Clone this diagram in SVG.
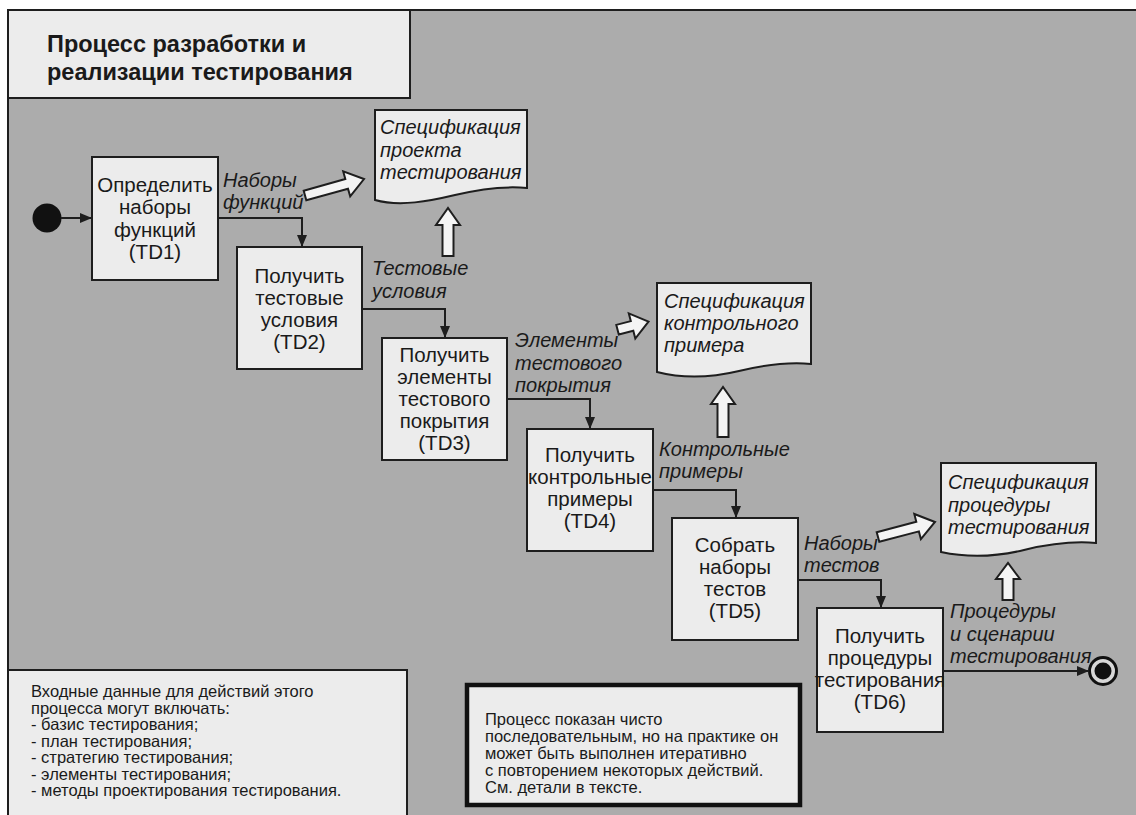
<svg xmlns="http://www.w3.org/2000/svg" width="1136" height="815" viewBox="0 0 1136 815">
<style>
.bg{fill:#acacac;stroke:none}
.frame{stroke:#1e1e1e;stroke-width:2;fill:none}
.box{fill:#ececec;stroke:#1e1e1e;stroke-width:2}
.doc{fill:#ececec;stroke:#1e1e1e;stroke-width:2}
.fat{fill:#f4f4f4;stroke:#1e1e1e;stroke-width:2;stroke-linejoin:miter}
.conn{fill:none;stroke:#1e1e1e;stroke-width:2}
.t{font-family:"Liberation Sans",Arial,sans-serif;font-size:20.5px;fill:#1a1a1a;text-anchor:middle}
.lbl{font-family:"Liberation Sans",Arial,sans-serif;font-size:20px;font-style:italic;fill:#1a1a1a}
.title{font-family:"Liberation Sans",Arial,sans-serif;font-size:23.5px;font-weight:bold;fill:#1a1a1a}
.note{font-family:"Liberation Sans",Arial,sans-serif;font-size:16.5px;fill:#1a1a1a}
</style>
<defs>
<marker id="ah" viewBox="0 0 12 10" refX="12" refY="5" markerWidth="12" markerHeight="10" markerUnits="userSpaceOnUse" orient="auto">
<path d="M0,0 L12,5 L0,10 Z" fill="#1e1e1e"/>
</marker>
</defs>
<rect class="bg" x="8" y="10" width="1128" height="805"/>
<path class="frame" d="M8,815 V10 H1136"/>

<g id="title">
<rect class="box" x="8" y="10" width="402" height="88"/>
<text class="title" x="47" y="52">Процесс разработки и</text>
<text class="title" x="47" y="80">реализации тестирования</text>
</g>

<g id="start"><circle cx="47" cy="218" r="14.5" fill="#111"/></g>
<g id="end">
<circle cx="1103" cy="671" r="13.5" fill="#d8d8d8" stroke="#111" stroke-width="3"/>
<circle cx="1103" cy="671" r="8.5" fill="#111"/>
</g>

<g id="connectors">
<path class="conn" d="M61,218 H92" marker-end="url(#ah)"/>
<path class="conn" d="M218,218 H302 V247" marker-end="url(#ah)"/>
<path class="conn" d="M362,309 H445 V338" marker-end="url(#ah)"/>
<path class="conn" d="M507,399 H590 V429" marker-end="url(#ah)"/>
<path class="conn" d="M653,490 H736 V518" marker-end="url(#ah)"/>
<path class="conn" d="M798,580 H881 V608" marker-end="url(#ah)"/>
<path class="conn" d="M943,671 H1089" marker-end="url(#ah)"/>
<polygon class="fat" points="303.7,190.7 345.3,179.0 343.2,171.3 364,179 350.2,196.3 348.0,188.7 306.3,200.3"/>
<polygon class="fat" points="616.3,324.9 630.8,321.1 628.8,313.4 648.5,321.7 635.3,338.5 633.3,330.8 618.8,334.5"/>
<polygon class="fat" points="876.7,532.2 916.3,521.8 914.3,514.0 935,522 920.9,539.2 918.9,531.4 879.3,541.8"/>
<polygon class="fat" points="442.5,256 442.5,225 436,225 448,208 460,225 453.5,225 453.5,256"/>
<polygon class="fat" points="717.5,437 717.5,404 711,404 723,387 735,404 728.5,404 728.5,437"/>
<polygon class="fat" points="1002.5,600 1002.5,579 996,579 1008,563 1020,579 1013.5,579 1013.5,600"/>
<text class="lbl" x="223" y="187">Наборы</text>
<text class="lbl" x="223" y="209">функций</text>
<text class="lbl" x="372" y="275">Тестовые</text>
<text class="lbl" x="372" y="298">условия</text>
<text class="lbl" x="515" y="347">Элементы</text>
<text class="lbl" x="515" y="370">тестового</text>
<text class="lbl" x="515" y="392">покрытия</text>
<text class="lbl" x="659" y="456">Контрольные</text>
<text class="lbl" x="659" y="478">примеры</text>
<text class="lbl" x="804" y="550">Наборы</text>
<text class="lbl" x="804" y="572">тестов</text>
<text class="lbl" x="950" y="618">Процедуры</text>
<text class="lbl" x="950" y="641">и сценарии</text>
<text class="lbl" x="950" y="663">тестирования</text>
</g>

<g id="TD1">
<rect class="box" x="92" y="157" width="126" height="123"/>
<text class="t" x="155" y="192">Определить</text>
<text class="t" x="155" y="214">наборы</text>
<text class="t" x="155" y="237">функций</text>
<text class="t" x="155" y="259">(TD1)</text>
</g>
<g id="TD2">
<rect class="box" x="237" y="247" width="125" height="122"/>
<text class="t" x="299.5" y="283">Получить</text>
<text class="t" x="299.5" y="305">тестовые</text>
<text class="t" x="299.5" y="327">условия</text>
<text class="t" x="299.5" y="349">(TD2)</text>
</g>
<g id="TD3">
<rect class="box" x="382" y="338" width="125" height="122"/>
<text class="t" x="444.5" y="362">Получить</text>
<text class="t" x="444.5" y="384">элементы</text>
<text class="t" x="444.5" y="406">тестового</text>
<text class="t" x="444.5" y="428">покрытия</text>
<text class="t" x="444.5" y="450">(TD3)</text>
</g>
<g id="TD4">
<rect class="box" x="527" y="429" width="126" height="122"/>
<text class="t" x="590" y="462">Получить</text>
<text class="t" x="590" y="484">контрольные</text>
<text class="t" x="590" y="506">примеры</text>
<text class="t" x="590" y="528">(TD4)</text>
</g>
<g id="TD5">
<rect class="box" x="672" y="518" width="126" height="122"/>
<text class="t" x="735" y="552">Собрать</text>
<text class="t" x="735" y="574">наборы</text>
<text class="t" x="735" y="596">тестов</text>
<text class="t" x="735" y="618">(TD5)</text>
</g>
<g id="TD6">
<rect class="box" x="817" y="608" width="126" height="124"/>
<text class="t" x="880" y="643">Получить</text>
<text class="t" x="880" y="665">процедуры</text>
<text class="t" x="880" y="687">тестирования</text>
<text class="t" x="880" y="709">(TD6)</text>
</g>

<g id="doc1">
<path class="doc" d="M375,110 H527 V188 C505,186 480,189 455,195 C430,201 400,207 375,200 Z"/>
<text class="lbl" x="380" y="134">Спецификация</text>
<text class="lbl" x="380" y="157">проекта</text>
<text class="lbl" x="380" y="179">тестирования</text>
</g>
<g id="doc2">
<path class="doc" d="M657,283 H811 V364 C789,362 764,365 739,371 C714,377 684,379 657,372 Z"/>
<text class="lbl" x="664" y="308">Спецификация</text>
<text class="lbl" x="664" y="330">контрольного</text>
<text class="lbl" x="664" y="352">примера</text>
</g>
<g id="doc3">
<path class="doc" d="M941,463 H1096 V543 C1074,541 1049,544 1024,550 C999,556 969,558 941,552 Z"/>
<text class="lbl" x="948" y="489">Спецификация</text>
<text class="lbl" x="948" y="512">процедуры</text>
<text class="lbl" x="948" y="534">тестирования</text>
</g>

<g id="note-inputs">
<rect class="box" x="8" y="670" width="399" height="150"/>
<text class="note" x="31" y="697">Входные данные для действий этого</text>
<text class="note" x="31" y="713.5">процесса могут включать:</text>
<text class="note" x="31" y="730">- базис тестирования;</text>
<text class="note" x="31" y="746.5">- план тестирования;</text>
<text class="note" x="31" y="763">- стратегию тестирования;</text>
<text class="note" x="31" y="779.5">- элементы тестирования;</text>
<text class="note" x="31" y="796">- методы проектирования тестирования.</text>
</g>
<g id="note-iterative">
<rect x="467" y="685" width="333" height="120" fill="#ececec" stroke="#111" stroke-width="4.5"/>
<text class="note" x="485" y="725">Процесс показан чисто</text>
<text class="note" x="485" y="742">последовательным, но на практике он</text>
<text class="note" x="485" y="759">может быть выполнен итеративно</text>
<text class="note" x="485" y="776">с повторением некоторых действий.</text>
<text class="note" x="485" y="793">См. детали в тексте.</text>
</g>
</svg>
